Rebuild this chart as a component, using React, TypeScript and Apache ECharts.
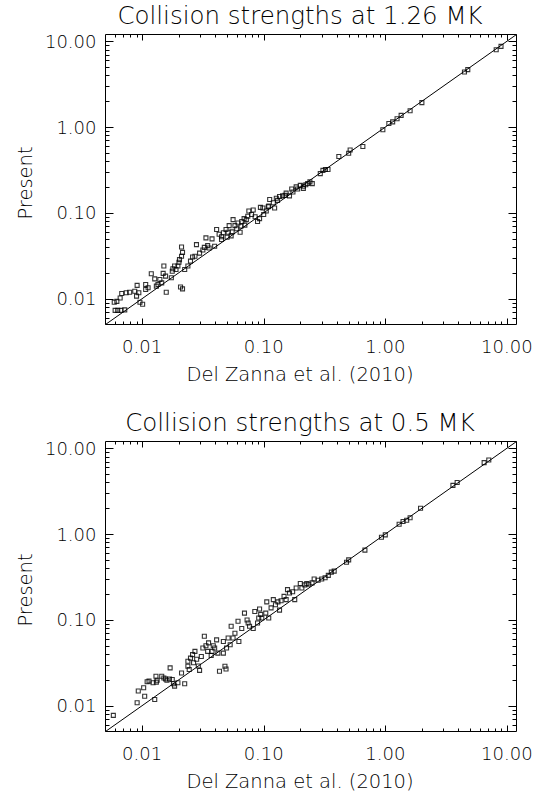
import React, { useEffect, useRef } from 'react';
import * as echarts from 'echarts';

const AXIS_MIN = 0.005;
const AXIS_MAX = 12;
const MAJOR_TICKS = [0.01, 0.1, 1, 10];
const MINOR_TICKS = [
  0.006, 0.007, 0.008, 0.009,
  0.02, 0.03, 0.04, 0.05, 0.06, 0.07, 0.08, 0.09,
  0.2, 0.3, 0.4, 0.5, 0.6, 0.7, 0.8, 0.9,
  2, 3, 4, 5, 6, 7, 8, 9,
];
const PANEL_TITLES = ['Collision strengths at 1.26 MK', 'Collision strengths at 0.5 MK'];
const X_TITLE = 'Del Zanna et al. (2010)';
const Y_TITLE = 'Present';
const DIAGONAL: [number, number][] = [[0.005, 0.005], [12, 12]];

// Collision strengths at 1.26 MK: [Del Zanna et al. (2010), Present]
const POINTS_126MK: [number, number][] = [
  [0.0059, 0.0091], [0.0062, 0.0093], [0.0060, 0.0073], [0.0063, 0.0073], [0.0067, 0.0073], [0.0072, 0.0074],
  [0.0066, 0.0102], [0.0068, 0.0115], [0.0074, 0.0117], [0.0079, 0.0119], [0.0087, 0.0122], [0.0090, 0.0107],
  [0.0094, 0.0117], [0.0091, 0.0143], [0.0096, 0.0091], [0.0101, 0.0086],
  [0.0107, 0.0146], [0.0107, 0.0128], [0.0112, 0.0134], [0.0119, 0.0195], [0.0127, 0.0170], [0.0131, 0.0140],
  [0.0135, 0.0146], [0.0140, 0.0167], [0.0145, 0.0153], [0.0149, 0.0197], [0.0156, 0.0183], [0.0158, 0.0119],
  [0.0151, 0.0240],
  [0.0174, 0.0175], [0.0177, 0.0209], [0.0179, 0.0223], [0.0185, 0.0240], [0.0190, 0.0219], [0.0197, 0.0240],
  [0.0201, 0.0266], [0.0203, 0.0285], [0.0211, 0.0312], [0.0215, 0.0346], [0.0211, 0.0401], [0.0207, 0.0137],
  [0.0215, 0.0130],
  [0.0224, 0.0219], [0.0238, 0.0240], [0.0250, 0.0274], [0.0260, 0.0306], [0.0272, 0.0312], [0.0280, 0.0427],
  [0.0297, 0.0340], [0.0316, 0.0370], [0.0325, 0.0396], [0.0335, 0.0511], [0.0346, 0.0415], [0.0356, 0.0390],
  [0.0376, 0.0498], [0.0395, 0.0409], [0.0410, 0.0640],
  [0.0430, 0.0563], [0.0450, 0.0527], [0.0466, 0.0586], [0.0490, 0.0640], [0.0510, 0.0595], [0.0520, 0.0710],
  [0.0540, 0.0540], [0.0560, 0.0834], [0.0580, 0.0710], [0.0600, 0.0652], [0.0615, 0.0761], [0.0640, 0.0595],
  [0.0660, 0.0794], [0.0690, 0.0856], [0.0720, 0.0834], [0.0740, 0.0914], [0.0755, 0.1050], [0.0795, 0.0956],
  [0.0820, 0.1080], [0.0450, 0.0490], [0.0500, 0.0520], [0.0550, 0.0600], [0.0650, 0.0700], [0.0700, 0.0720],
  [0.0850, 0.0900],
  [0.0890, 0.0794], [0.0925, 0.0856], [0.0940, 0.1160], [0.0985, 0.1140], [0.1000, 0.0956], [0.1050, 0.1050],
  [0.1090, 0.1180], [0.1120, 0.1430], [0.1200, 0.1310], [0.1230, 0.1140], [0.1270, 0.1480], [0.1350, 0.1550],
  [0.1430, 0.1580], [0.1530, 0.1700], [0.1630, 0.1580], [0.1740, 0.1750], [0.1850, 0.2010], [0.2000, 0.2090],
  [0.2120, 0.1930], [0.2220, 0.2130], [0.1100, 0.1200], [0.1300, 0.1400], [0.1500, 0.1600], [0.1700, 0.1900],
  [0.1900, 0.1900],
  [0.2120, 0.2040], [0.2300, 0.2200], [0.2400, 0.2300], [0.2510, 0.2190], [0.2920, 0.2870], [0.3070, 0.3130],
  [0.3220, 0.3200], [0.3380, 0.3200], [0.4150, 0.4550], [0.5000, 0.4950], [0.5140, 0.5400], [0.6540, 0.5950],
  [0.9550, 0.9310], [1.0700, 1.1000], [1.1500, 1.1500], [1.2500, 1.2500], [1.3500, 1.3700], [1.6000, 1.5500],
  [2.0000, 1.9300], [4.4800, 4.3800], [4.7700, 4.6700], [8.1700, 7.9700], [8.9500, 8.7200],
];

// Collision strengths at 0.5 MK: [Del Zanna et al. (2010), Present]
const POINTS_05MK: [number, number][] = [
  [0.0058, 0.0077], [0.0091, 0.0108], [0.0093, 0.0148], [0.0103, 0.0162], [0.0105, 0.0129], [0.0110, 0.0190],
  [0.0114, 0.0193], [0.0123, 0.0185], [0.0127, 0.0118], [0.0131, 0.0188], [0.0133, 0.0198], [0.0130, 0.0220],
  [0.0145, 0.0220], [0.0151, 0.0210], [0.0156, 0.0205], [0.0160, 0.0198], [0.0168, 0.0205], [0.0170, 0.0276],
  [0.0177, 0.0202], [0.0181, 0.0180], [0.0185, 0.0169], [0.0197, 0.0185], [0.0211, 0.0240], [0.0224, 0.0180],
  [0.0238, 0.0288], [0.0238, 0.0329], [0.0244, 0.0264], [0.0250, 0.0358], [0.0260, 0.0394], [0.0265, 0.0316],
  [0.0272, 0.0430], [0.0281, 0.0348], [0.0290, 0.0290], [0.0297, 0.0258], [0.0307, 0.0375], [0.0316, 0.0471],
  [0.0325, 0.0644], [0.0335, 0.0500], [0.0346, 0.0430], [0.0352, 0.0540], [0.0370, 0.0384], [0.0376, 0.0430],
  [0.0385, 0.0500], [0.0395, 0.0470], [0.0410, 0.0584], [0.0420, 0.0410], [0.0433, 0.0252], [0.0466, 0.0410],
  [0.0480, 0.0288], [0.0490, 0.0268], [0.0466, 0.0560], [0.0495, 0.0470], [0.0510, 0.0615], [0.0530, 0.0514],
  [0.0540, 0.0842], [0.0560, 0.0615], [0.0580, 0.0698], [0.0615, 0.0962], [0.0625, 0.0560], [0.0660, 0.0792],
  [0.0695, 0.1200], [0.0730, 0.0995], [0.0745, 0.0920], [0.0765, 0.0842], [0.0820, 0.0792], [0.0845, 0.1250],
  [0.0890, 0.0920], [0.0910, 0.1050], [0.0925, 0.1340], [0.0945, 0.1160], [0.0965, 0.1050], [0.1040, 0.1200],
  [0.1060, 0.1620], [0.1100, 0.1050], [0.1150, 0.1380], [0.1200, 0.1720], [0.1250, 0.1500], [0.1310, 0.1620],
  [0.1350, 0.1300], [0.1390, 0.1670], [0.1470, 0.1880], [0.1530, 0.1720], [0.1570, 0.2250], [0.1630, 0.2060],
  [0.1730, 0.2130], [0.1800, 0.1720], [0.1850, 0.2350], [0.2000, 0.2660], [0.2060, 0.2350], [0.2180, 0.2560],
  [0.2260, 0.2660],
  [0.2350, 0.2600], [0.2500, 0.2700], [0.2600, 0.3000], [0.2800, 0.2900], [0.3000, 0.3000], [0.3200, 0.3100],
  [0.3400, 0.3300], [0.3600, 0.3600], [0.3800, 0.3700], [0.4800, 0.4700], [0.5000, 0.5000], [0.6800, 0.6500],
  [0.9300, 0.9200], [1.0000, 0.9800], [1.3000, 1.3000], [1.4000, 1.4000], [1.5000, 1.4500], [1.6000, 1.5500],
  [1.9500, 2.0000], [3.6000, 3.7000], [3.9000, 4.0000], [6.5000, 6.8000], [7.1000, 7.3000],
];

const PANELS = [POINTS_126MK, POINTS_05MK];

const FONT = 'DejaVu Sans';
const FONT_WEIGHT = 300;
const GRID_LEFT = 105.5;
const GRID_WIDTH = 411;
const GRID_HEIGHT = 290;
const GRID_TOPS = [34.5, 441.5];
const PANEL_OFFSET = 407;

function labelFormatter(v: number) {
  const l = Math.log10(v);
  return Math.abs(l - Math.round(l)) < 1e-6 ? v.toFixed(2) : '';
}

const tickData = [
  ...MAJOR_TICKS.map((v) => [v, v, 1]),
  ...MINOR_TICKS.map((v) => [v, v, 0]),
];

function xTickRender(params: any, api: any) {
  const v = api.value(0);
  const major = api.value(2) === 1;
  const b = api.coord([v, AXIS_MIN]);
  const t = api.coord([v, AXIS_MAX]);
  const len = major ? 6 : 3;
  const x = Math.round(b[0]) + 0.5;
  const st = { stroke: '#000', lineWidth: 1 };
  return {
    type: 'group',
    children: [
      { type: 'line', shape: { x1: x, y1: b[1], x2: x, y2: b[1] - len }, style: st },
      { type: 'line', shape: { x1: x, y1: t[1], x2: x, y2: t[1] + len }, style: st },
    ],
  };
}

function yTickRender(params: any, api: any) {
  const v = api.value(1);
  const major = api.value(2) === 1;
  const l = api.coord([AXIS_MIN, v]);
  const r = api.coord([AXIS_MAX, v]);
  const len = major ? 8 : 4;
  const y = Math.round(l[1]) + 0.5;
  const st = { stroke: '#000', lineWidth: 1 };
  return {
    type: 'group',
    children: [
      { type: 'line', shape: { x1: l[0], y1: y, x2: l[0] + len, y2: y }, style: st },
      { type: 'line', shape: { x1: r[0], y1: y, x2: r[0] - len, y2: y }, style: st },
    ],
  };
}

export default function App() {
  const ref = useRef<HTMLDivElement>(null);
  useEffect(() => {
    if (!ref.current) return;
    const chart = echarts.init(ref.current, null, { renderer: 'svg' });

    const grid = GRID_TOPS.map((top) => ({
      left: GRID_LEFT,
      top,
      width: GRID_WIDTH,
      height: GRID_HEIGHT,
      show: true,
      borderColor: '#000',
      borderWidth: 1,
      backgroundColor: 'transparent',
    }));

    const axisCommon = {
      type: 'log' as const,
      logBase: 10,
      min: AXIS_MIN,
      max: AXIS_MAX,
      axisLine: { show: false },
      axisTick: { show: false },
      splitLine: { show: false },
      minorTick: { show: false },
    };

    const labelCommon = {
      formatter: labelFormatter,
      color: '#000',
      fontFamily: FONT,
      fontWeight: FONT_WEIGHT,
      fontSize: 18,
      showMinLabel: false,
      showMaxLabel: false,
    };

    const xAxis = GRID_TOPS.map((_, i) => ({
      ...axisCommon,
      gridIndex: i,
      axisLabel: { ...labelCommon, margin: 13 },
    }));
    const yAxis = GRID_TOPS.map((_, i) => ({
      ...axisCommon,
      gridIndex: i,
      axisLabel: { ...labelCommon, margin: 9 },
    }));

    const series: any[] = [];
    PANELS.forEach((pts, i) => {
      series.push({
        type: 'line',
        xAxisIndex: i,
        yAxisIndex: i,
        data: DIAGONAL,
        symbol: 'none',
        lineStyle: { color: '#000', width: 1 },
        silent: true,
      });
      series.push({
        type: 'scatter',
        xAxisIndex: i,
        yAxisIndex: i,
        data: pts,
        symbol: 'rect',
        symbolSize: 4,
        itemStyle: { color: 'rgba(0,0,0,0)', borderColor: '#000', borderWidth: 1.1 },
      });
      series.push({
        type: 'custom',
        xAxisIndex: i,
        yAxisIndex: i,
        data: tickData,
        encode: { x: 0, y: 1 },
        renderItem: xTickRender,
        silent: true,
      });
      series.push({
        type: 'custom',
        xAxisIndex: i,
        yAxisIndex: i,
        data: tickData,
        encode: { x: 0, y: 1 },
        renderItem: yTickRender,
        silent: true,
      });
    });

    const textStyle = (text: string, size: number) => ({
      text,
      fontFamily: FONT,
      fontWeight: FONT_WEIGHT,
      fontSize: size,
      fill: '#000',
      textAlign: 'center',
      textVerticalAlign: 'middle',
    });

    const graphic: any[] = [];
    PANEL_TITLES.forEach((title, i) => {
      const dy = i * PANEL_OFFSET;
      graphic.push({ type: 'text', x: 300, y: 15 + dy, style: textStyle(title, 24.5) });
      graphic.push({ type: 'text', x: 300, y: 374 + dy, style: textStyle(X_TITLE, 19.5) });
      graphic.push({ type: 'text', x: 25, y: 183 + dy, rotation: Math.PI / 2, style: textStyle(Y_TITLE, 19.5) });
    });

    chart.setOption({
      animation: false,
      backgroundColor: '#fff',
      grid,
      xAxis,
      yAxis,
      series,
      graphic,
    });
    return () => chart.dispose();
  }, []);

  return (
    <div
      ref={ref}
      style={{ position: 'absolute', left: 0, top: 0, width: 541, height: 796, background: '#fff' }}
    />
  );
}
